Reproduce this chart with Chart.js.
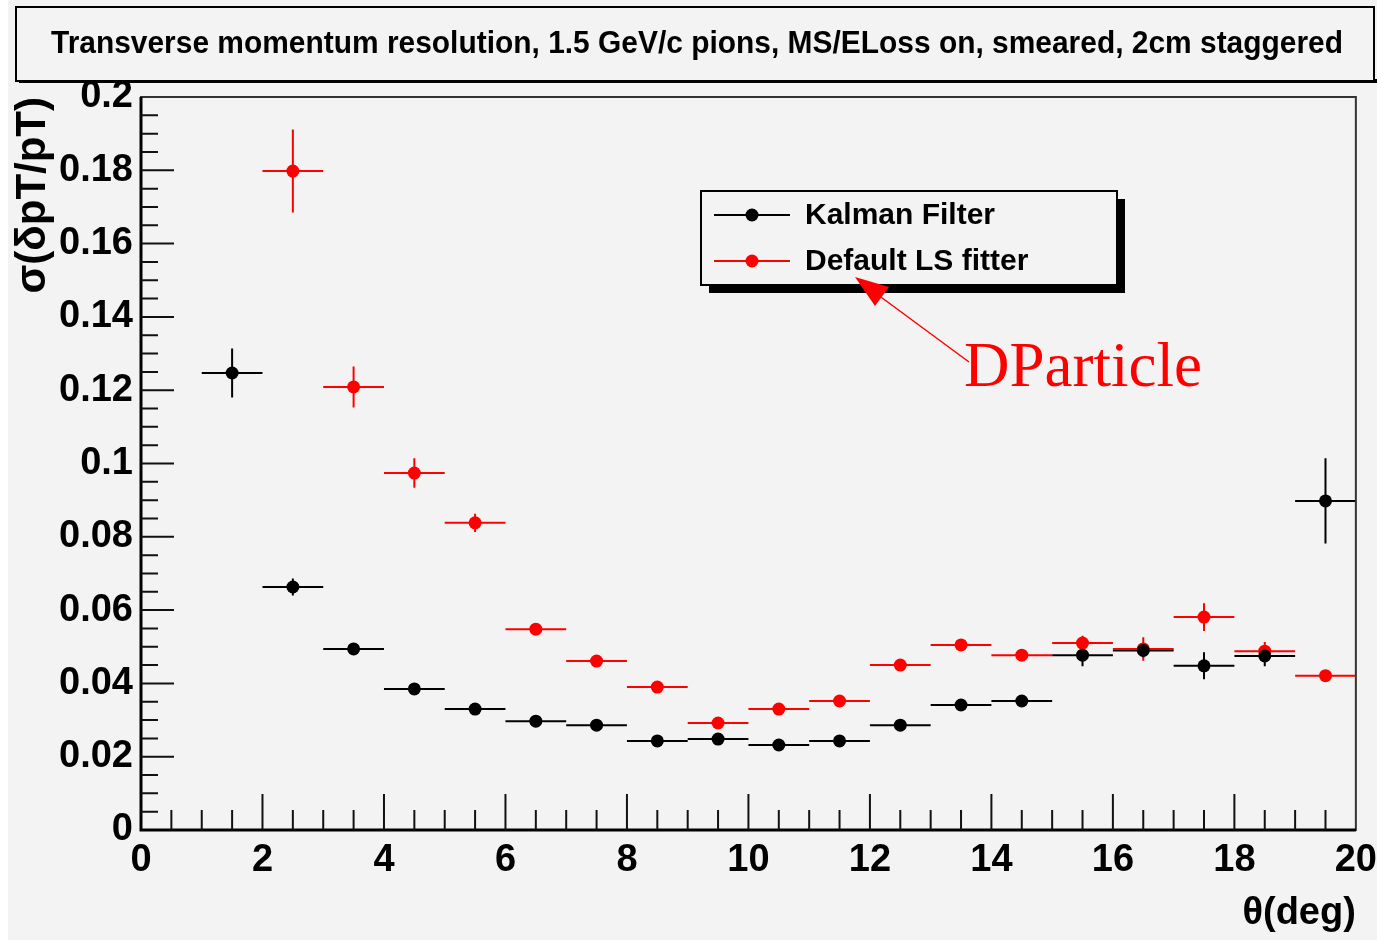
<!DOCTYPE html>
<html>
<head>
<meta charset="utf-8">
<script src="https://cdn.jsdelivr.net/npm/chart.js@4.4.0/dist/chart.umd.min.js"></script>
<style>
  html, body { margin: 0; padding: 0; background: #f3f3f3; }
  canvas { display: block; }
</style>
</head>
<body>
<canvas id="resChart" width="1377" height="940"></canvas>
<script>
// bin centres in theta (deg), each bin is 1 deg wide
const thetaBins = [0.5, 1.5, 2.5, 3.5, 4.5, 5.5, 6.5, 7.5, 8.5, 9.5,
                   10.5, 11.5, 12.5, 13.5, 14.5, 15.5, 16.5, 17.5, 18.5, 19.5];
const binHalfWidth = 0.5;

const kalman    = [null, 0.1247, 0.0663, 0.0494, 0.0385, 0.0330, 0.0297, 0.0286, 0.0243, 0.0248,
                   0.0232, 0.0243, 0.0286, 0.0341, 0.0352, 0.0477, 0.0490, 0.0448, 0.0475, 0.0898];
const kalmanErr = [null, 0.0067, 0.0023, 0.0010, 0.0010, 0.0009, 0.0009, 0.0009, 0.0009, 0.0009,
                   0.0009, 0.0009, 0.0010, 0.0010, 0.0012, 0.0030, 0.0020, 0.0037, 0.0028, 0.0116];

const lsFitter    = [null, null, 0.1798, 0.1209, 0.0974, 0.0838, 0.0548, 0.0461, 0.0390, 0.0292,
                     0.0330, 0.0352, 0.0450, 0.0505, 0.0477, 0.0510, 0.0494, 0.0581, 0.0488, 0.0421];
const lsFitterErr = [null, null, 0.0113, 0.0056, 0.0040, 0.0025, 0.0012, 0.0010, 0.0010, 0.0010,
                     0.0010, 0.0010, 0.0011, 0.0012, 0.0015, 0.0020, 0.0032, 0.0038, 0.0025, 0.0015];

const yTickValues = [0, 0.02, 0.04, 0.06, 0.08, 0.1, 0.12, 0.14, 0.16, 0.18, 0.2];
const yTickLabels = ['0', '0.02', '0.04', '0.06', '0.08', '0.1', '0.12', '0.14', '0.16', '0.18', '0.2'];
const xTickValues = [0, 2, 4, 6, 8, 10, 12, 14, 16, 18, 20];
const xTickLabels = ['0', '2', '4', '6', '8', '10', '12', '14', '16', '18', '20'];

const titleText = 'Transverse momentum resolution, 1.5 GeV/c pions, MS/ELoss on, smeared, 2cm staggered';
const seriesNames = ['Kalman Filter', 'Default LS fitter'];

const SANS = "'Liberation Sans', Arial, Helvetica, sans-serif";

function points(vals, errs) {
  return thetaBins
    .map((x, i) => ({ x: x, y: vals[i], e: errs[i] }))
    .filter(p => p.y !== null);
}

// ROOT-ish decorations: page, title pave, frame, inward ticks
const rootStyle = {
  id: 'rootStyle',
  beforeDraw(chart) {
    const ctx = chart.ctx;
    ctx.save();
    ctx.fillStyle = '#f3f3f3';
    ctx.fillRect(0, 0, chart.width, chart.height);
    ctx.fillStyle = '#ffffff';
    ctx.fillRect(0, 0, 8, chart.height);

    // title pave with shadow
    ctx.fillStyle = '#000';
    ctx.fillRect(19, 79, 1358, 4);
    ctx.fillStyle = '#f3f3f3';
    ctx.fillRect(16, 7, 1358, 74);
    ctx.strokeStyle = '#000';
    ctx.lineWidth = 2;
    ctx.strokeRect(16, 7, 1358, 74);
    ctx.fillStyle = '#000';
    ctx.font = 'bold 31px ' + SANS;
    ctx.textAlign = 'center';
    ctx.textBaseline = 'alphabetic';
    ctx.fillText(titleText, 697, 53, 1292);
    ctx.restore();
  },
  beforeDatasetsDraw(chart) {
    // error bars under the markers
    const { ctx, scales: { x, y } } = chart;
    ctx.save();
    ctx.lineWidth = 2;
    chart.data.datasets.forEach(ds => {
      ctx.strokeStyle = ds.borderColor;
      ds.data.forEach(p => {
        const px = x.getPixelForValue(p.x);
        const py = y.getPixelForValue(p.y);
        ctx.beginPath();
        ctx.moveTo(x.getPixelForValue(p.x - binHalfWidth), py);
        ctx.lineTo(x.getPixelForValue(p.x + binHalfWidth), py);
        ctx.moveTo(px, y.getPixelForValue(p.y - p.e));
        ctx.lineTo(px, y.getPixelForValue(p.y + p.e));
        ctx.stroke();
      });
    });
    ctx.restore();
  },
  afterDraw(chart) {
    const { ctx, chartArea: a, scales: { x, y } } = chart;
    ctx.save();
    // frame
    ctx.strokeStyle = '#333';
    ctx.lineWidth = 2;
    ctx.strokeRect(a.left, a.top, a.right - a.left, a.bottom - a.top);
    ctx.strokeStyle = '#000';
    ctx.lineWidth = 3;
    ctx.beginPath();
    ctx.moveTo(a.left, a.top);
    ctx.lineTo(a.left, a.bottom);
    ctx.lineTo(a.right, a.bottom);
    ctx.stroke();

    // inward ticks
    ctx.lineWidth = 2;
    ctx.strokeStyle = '#111';
    ctx.beginPath();
    for (let k = 1; k < 40; k++) {
      const v = k * 0.005;
      const py = y.getPixelForValue(v);
      const len = (k % 4 === 0) ? 33 : 17;
      ctx.moveTo(a.left, py);
      ctx.lineTo(a.left + len, py);
    }
    for (let k = 1; k < 40; k++) {
      const v = k * 0.5;
      const px = x.getPixelForValue(v);
      const len = (k % 4 === 0) ? 36 : 20;
      ctx.moveTo(px, a.bottom);
      ctx.lineTo(px, a.bottom - len);
    }
    ctx.stroke();

    // legend pave
    const lx = 701, ly = 191, lw = 416, lh = 94;
    ctx.fillStyle = '#000';
    ctx.fillRect(lx + 8, ly + 8, lw, lh);
    ctx.fillStyle = '#f3f3f3';
    ctx.fillRect(lx, ly, lw, lh);
    ctx.strokeStyle = '#000';
    ctx.lineWidth = 2;
    ctx.strokeRect(lx, ly, lw, lh);
    chart.data.datasets.forEach((ds, i) => {
      const ry = [215, 261][i];
      ctx.strokeStyle = ds.borderColor;
      ctx.lineWidth = 2;
      ctx.beginPath();
      ctx.moveTo(714, ry);
      ctx.lineTo(790, ry);
      ctx.stroke();
      ctx.fillStyle = ds.backgroundColor;
      ctx.beginPath();
      ctx.arc(752, ry, 6.5, 0, Math.PI * 2);
      ctx.fill();
      ctx.fillStyle = '#000';
      ctx.font = 'bold 30px ' + SANS;
      ctx.textAlign = 'left';
      ctx.textBaseline = 'middle';
      ctx.fillText(seriesNames[i], 805, ry + 1);
    });

    // red annotation arrow and label
    ctx.strokeStyle = '#ff0000';
    ctx.fillStyle = '#ff0000';
    ctx.lineWidth = 1.5;
    ctx.beginPath();
    ctx.moveTo(969, 362);
    ctx.lineTo(870, 289);
    ctx.stroke();
    ctx.beginPath();
    ctx.moveTo(855, 277);
    ctx.lineTo(889, 287);
    ctx.lineTo(875, 306);
    ctx.closePath();
    ctx.fill();
    ctx.font = "63px 'Liberation Serif', 'Times New Roman', serif";
    ctx.textAlign = 'left';
    ctx.textBaseline = 'alphabetic';
    ctx.fillText('DParticle', 964, 386);
    ctx.restore();
  }
};

const ctx = document.getElementById('resChart').getContext('2d');
const chart = new Chart(ctx, {
  type: 'scatter',
  data: {
    datasets: [
      {
        label: seriesNames[0],
        data: points(kalman, kalmanErr),
        borderColor: '#000000',
        backgroundColor: '#000000',
        pointRadius: 6.5,
        pointHoverRadius: 6.5,
        pointBorderWidth: 0,
        showLine: false
      },
      {
        label: seriesNames[1],
        data: points(lsFitter, lsFitterErr),
        borderColor: '#ff0000',
        backgroundColor: '#ff0000',
        pointRadius: 6.5,
        pointHoverRadius: 6.5,
        pointBorderWidth: 0,
        showLine: false
      }
    ]
  },
  options: {
    responsive: false,
    animation: false,
    devicePixelRatio: 1,
    layout: { padding: { top: 97, right: 15, left: 0, bottom: 0 } },
    plugins: {
      legend: { display: false },
      title: { display: false },
      tooltip: { enabled: false }
    },
    scales: {
      x: {
        type: 'linear',
        min: 0,
        max: 20,
        afterFit: s => { s.height = 110; },
        afterBuildTicks: s => { s.ticks = xTickValues.map(v => ({ value: v })); },
        grid: { display: false },
        border: { display: false },
        ticks: {
          autoSkip: false,
          maxRotation: 0,
          padding: 0,
          color: '#000',
          font: { family: SANS, size: 38, weight: 'bold' },
          callback: (v, i) => xTickLabels[i]
        },
        title: {
          display: true,
          text: 'θ(deg)',
          align: 'end',
          color: '#000',
          padding: { top: 0, bottom: 4 },
          font: { family: SANS, size: 38, weight: 'bold' }
        }
      },
      y: {
        type: 'linear',
        min: 0,
        max: 0.2,
        afterFit: s => { s.width = 141; },
        afterBuildTicks: s => { s.ticks = yTickValues.map(v => ({ value: v })); },
        grid: { display: false },
        border: { display: false },
        ticks: {
          autoSkip: false,
          padding: 0,
          color: '#000',
          font: { family: SANS, size: 38, weight: 'bold' },
          callback: (v, i) => yTickLabels[i]
        },
        title: {
          display: true,
          text: 'σ(δpT/pT)',
          align: 'end',
          color: '#000',
          padding: { top: 8, bottom: 0 },
          font: { family: SANS, size: 42, weight: 'bold' }
        }
      }
    }
  },
  plugins: [rootStyle]
});
</script>
</body>
</html>
